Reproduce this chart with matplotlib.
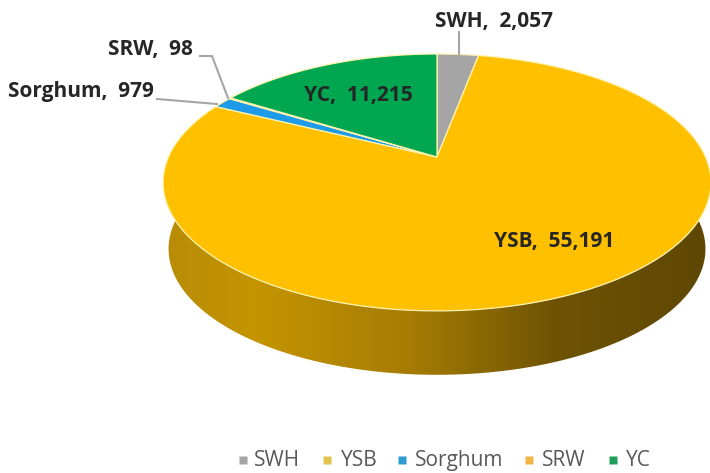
import numpy as np
import matplotlib
matplotlib.use('Agg')
import matplotlib.pyplot as plt
from matplotlib.colors import LinearSegmentedColormap
from matplotlib.patches import Polygon

# data
categories = ['SWH', 'YSB', 'Sorghum', 'SRW', 'YC']
values = [2057, 55191, 979, 98, 11215]
value_labels = ['2,057', '55,191', '979', '98', '11,215']
colors = ['#A5A5A5', '#FFC000', '#1E9BE8', '#F0B030', '#00A650']
legend_colors = ['#A5A5A5', '#E3C34F', '#2E9BD0', '#F2B544', '#1E9E5A']

# pie geometry (pixels of the picture)
cx, cy = 437, 157
a, b, k = 268.5, 123.4, 0.198
depth, shrink = 67, 0.98

def rim(theta, scale=1.0, dy=0.0):
    # theta clockwise from the top, tilted circle with some perspective
    u, v = np.sin(theta), np.cos(theta)
    w = 1 + k * v
    return cx + scale * a * u / w, cy + dy - scale * b * v / w

fig = plt.figure(figsize=(7.10, 4.73), dpi=100)
ax = fig.add_axes([0, 0, 1, 1])
ax.set_xlim(0, 710)
ax.set_ylim(473, 0)
ax.axis('off')

# side of the pie with gradient
th = np.linspace(np.pi / 2 - 0.2, 3 * np.pi / 2 + 0.2, 300)
x1, y1 = rim(th)
x2, y2 = rim(th[::-1], shrink, depth)
side = Polygon(np.column_stack([np.r_[x1, x2], np.r_[y1, y2]]), fc='none', ec='none')
ax.add_patch(side)
cmap = LinearSegmentedColormap.from_list('side', [
    (0.0, '#B88C08'), (0.17, '#C49400'), (0.45, '#A67C04'),
    (0.72, '#6E5303'), (1.0, '#5E4703')])
im = ax.imshow(np.linspace(0, 1, 256).reshape(1, -1), cmap=cmap, aspect='auto',
               extent=[163, 710, 400, 100], zorder=1)
im.set_clip_path(side)
ax.set_xlim(0, 710)
ax.set_ylim(473, 0)

# top face
edges = np.r_[0, np.cumsum(values)] / np.sum(values) * 2 * np.pi
for i, c in enumerate(colors):
    t = np.linspace(edges[i], edges[i + 1], max(3, int(len(th) * (edges[i + 1] - edges[i]))))
    xs, ys = rim(t)
    ax.fill(np.r_[cx, xs], np.r_[cy, ys], fc=c, ec='#FFF3B0', lw=0.9, zorder=2)

# labels
label_pos = [(494, 22), (554, 241), (81, 92), (150, 49), (358, 95)]
for name, val, (lx, ly) in zip(categories, value_labels, label_pos):
    ax.text(lx, ly, f'{name},  {val}', ha='center', va='center', fontsize=15,
            fontweight='bold', family='Open Sans', color='#262626', zorder=4)

# leader lines
ax.plot([459, 459], [32, 55], color='#A6A6A6', lw=1.5, zorder=3)
ax.plot([200, 212, 228], [56, 56, 98], color='#A6A6A6', lw=1.5, zorder=3)
ax.plot([157, 217], [99, 104], color='#A6A6A6', lw=1.5, zorder=3)

# legend
marker_x = [243, 327, 402, 529, 613]
text_x = [254, 341, 415, 542, 626]
for name, c, mx, tx in zip(categories, legend_colors, marker_x, text_x):
    ax.plot([mx], [460], 's', ms=5.5, color=c, mec='none')
    ax.text(tx, 460, name, ha='left', va='center', fontsize=15,
            family='Open Sans', color='#595959')

fig.savefig('out.png', dpi=100)
